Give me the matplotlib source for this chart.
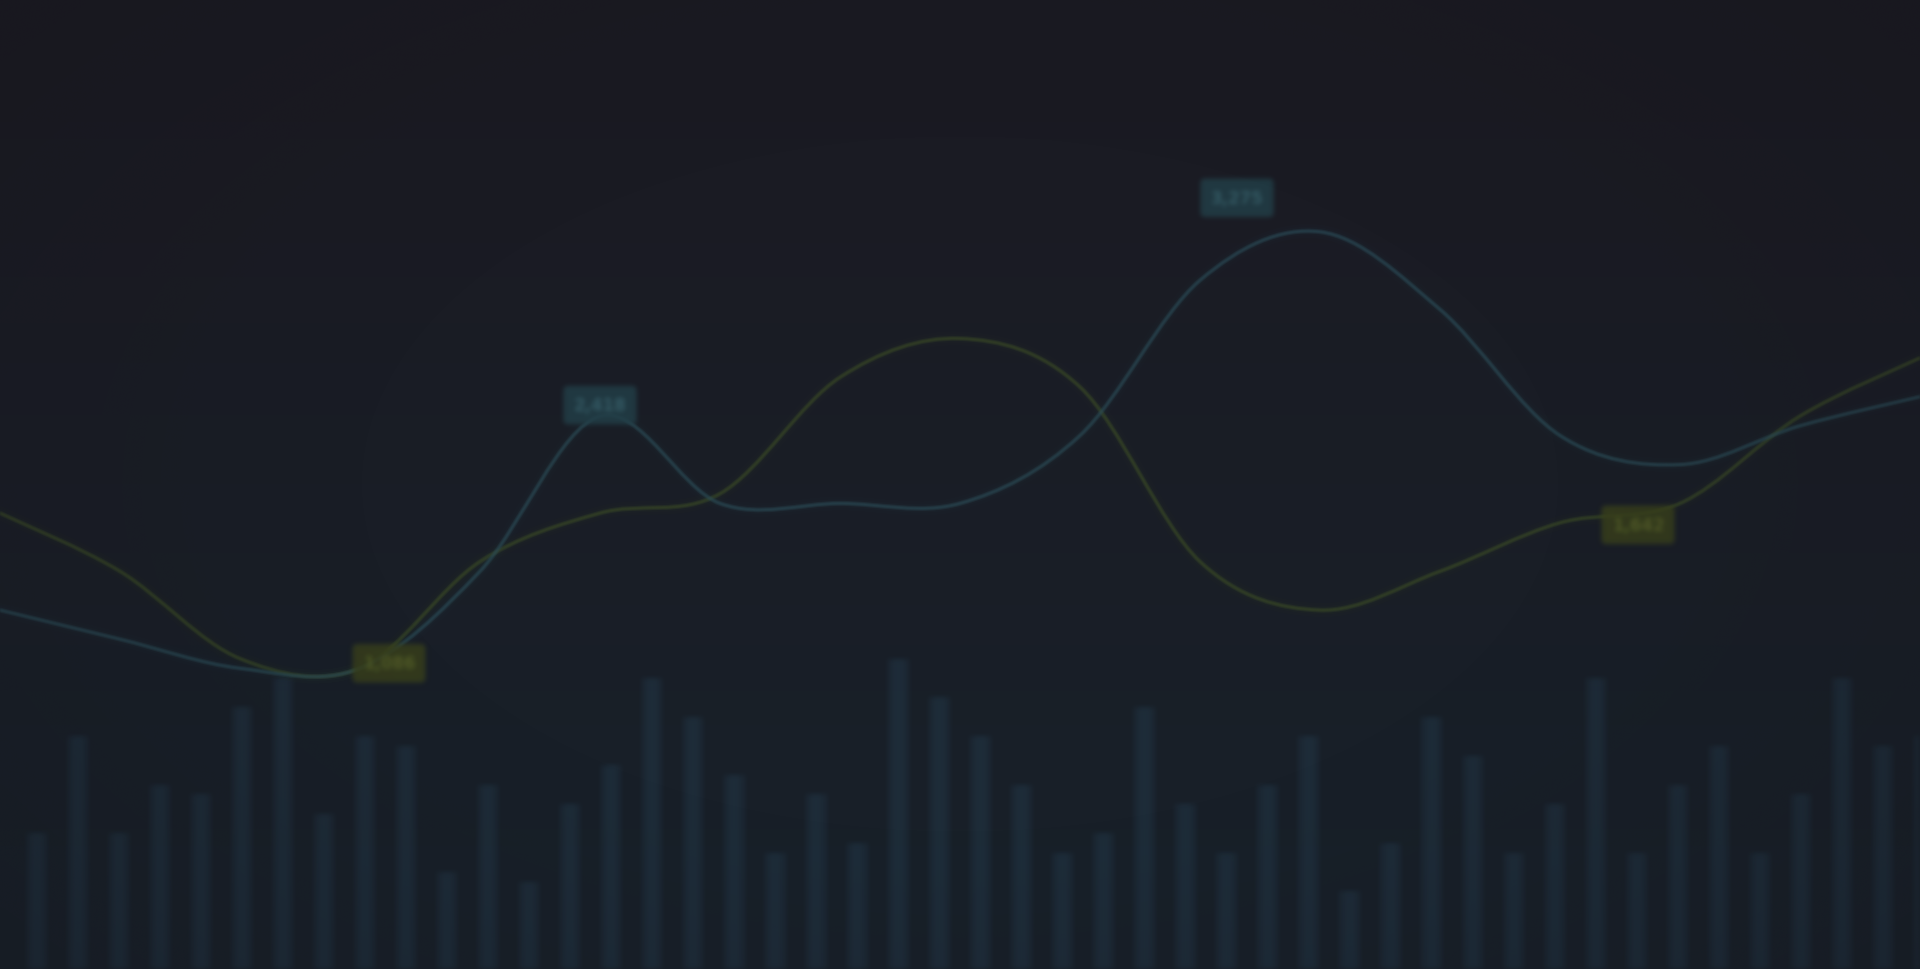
import numpy as np
import matplotlib
matplotlib.use("Agg")
import matplotlib.pyplot as plt
from matplotlib.path import Path
from matplotlib.patches import PathPatch

# data
bar_values = [14, 24, 14, 19, 18, 27, 30, 16, 24, 23, 10, 19, 9, 17, 21, 30,
              26, 20, 12, 18, 13, 32, 28, 24, 19, 12, 14, 27, 17, 12, 19, 24,
              8, 13, 26, 22, 12, 17, 30, 12, 19, 23, 12, 18, 30, 23, 24]
points = list(range(17))
series_a = [47, 41, 32, 31, 42, 47, 49, 61, 65, 60, 42, 37, 41, 46, 48, 57, 63]
series_b = [37, 34, 31, 31, 41, 57, 48, 48, 48, 55, 71, 76, 68, 55, 52, 56, 59]
# (series, point index, text, x offset px, y offset px)
labels = [
    ("a", 3, "1,086", 29, 5),
    ("b", 5, "2,418", 0, 11),
    ("b", 11, "3,275", -83, 34),
    ("a", 13, "1,642", 78, -2),
]


def blur(sigma):
    # gaussian blur as an agg filter, done on premultiplied colours
    pad = int(np.ceil(sigma * 3))
    k = np.exp(-0.5 * (np.arange(-pad, pad + 1) / sigma) ** 2)
    k /= k.sum()

    def f(im, dpi):
        im = np.pad(im, ((pad, pad), (pad, pad), (0, 0)))
        pm = im.copy()
        pm[..., :3] *= pm[..., 3:4]
        out = np.zeros_like(pm)
        for j, w in enumerate(k):
            out += w * np.roll(pm, j - pad, axis=0)
        out2 = np.zeros_like(out)
        for j, w in enumerate(k):
            out2 += w * np.roll(out, j - pad, axis=1)
        a = out2[..., 3:4]
        out2[..., :3] = np.where(a > 1e-6, out2[..., :3] / np.maximum(a, 1e-6), 0)
        return np.clip(out2, 0, 1), -pad, -pad
    return f


W, H = 19.2, 9.7
fig = plt.figure(figsize=(W, H), dpi=100)
fig.patch.set_facecolor("#1b1b23")

# background gradient
bg = fig.add_axes([0, 0, 1, 1], zorder=0)
ys = np.linspace(0, 1, 200)[:, None]
top = np.array([27, 26, 34]) / 255
bot = np.array([24, 33, 42]) / 255
grad = top * (1 - ys[..., None]) + bot * ys[..., None]
grad = np.repeat(grad, 4, axis=1)
bg.imshow(grad, aspect="auto", extent=[0, 1, 0, 1], interpolation="bicubic")
bg.set_axis_off()

# bars
axb = fig.add_axes([0, 0, 1, 1], zorder=1)
axb.patch.set_alpha(0)
bx = np.arange(len(bar_values))
b1 = axb.bar(bx, bar_values, width=0.5, color="#24394a", alpha=0.38, linewidth=0)
b2 = axb.bar(bx, bar_values, width=0.25, color="#2a4556", alpha=0.15, linewidth=0)
for p in list(b1) + list(b2):
    p.set_agg_filter(blur(2.5))
axb.set_xlim(-0.896, 45.9)
axb.set_ylim(0, 100)
axb.set_axis_off()

# lines
ax = fig.add_axes([0, 0, 1, 1], zorder=2)
ax.patch.set_alpha(0)
ax.set_xlim(0, 16)
ax.set_ylim(0, 100)
ax.set_axis_off()


def smooth_path(x, y):
    pts = np.column_stack([x, y]).astype(float)
    verts = [pts[0]]
    codes = [Path.MOVETO]
    n = len(pts)
    for i in range(n - 1):
        p0 = pts[max(i - 1, 0)]
        p1 = pts[i]
        p2 = pts[i + 1]
        p3 = pts[min(i + 2, n - 1)]
        c1 = p1 + (p2 - p0) / 6
        c2 = p2 - (p3 - p1) / 6
        verts += [c1, c2, p2]
        codes += [Path.CURVE4] * 3
    return Path(verts, codes)


for vals, col in [(series_a, "#3b4a25"), (series_b, "#2b4c57")]:
    path = smooth_path(points, vals)
    for lw, a in [(10, 0.04), (6, 0.06), (3.5, 0.15)]:
        ax.add_patch(PathPatch(path, fill=False, edgecolor=col, lw=lw,
                               alpha=a, capstyle="round"))
    pp = ax.add_patch(PathPatch(path, fill=False, edgecolor=col, lw=2.0,
                                alpha=0.65))
    pp.set_agg_filter(blur(0.9))

for s, idx, txt, dx, dy in labels:
    vals = series_a if s == "a" else series_b
    if s == "a":
        fc, tc, ec = "#383f1c", "#525c28", "#414a1e"
    else:
        fc, tc, ec = "#223e47", "#365c66", "#294a53"
    t = ax.annotate(txt, (points[idx], vals[idx]), xytext=(dx, dy),
                    textcoords="offset pixels", ha="center", va="center",
                    fontsize=12, color=tc, fontweight="bold",
                    bbox=dict(boxstyle="round,pad=0.55,rounding_size=0.2",
                              fc=fc, ec=ec, lw=1, alpha=0.85))
    t.set_agg_filter(blur(1.8))

# vignette
vg = fig.add_axes([0, 0, 1, 1], zorder=3)
vg.patch.set_alpha(0)
xx, yy = np.meshgrid(np.linspace(-1, 1, 300), np.linspace(-1, 1, 150))
r = np.sqrt(xx ** 2 * 0.8 + yy ** 2 * 0.6)
alpha = np.clip((r - 0.55) / 0.8, 0, 1) * 0.35
overlay = np.zeros((150, 300, 4))
overlay[..., 0] = 20 / 255
overlay[..., 1] = 19 / 255
overlay[..., 2] = 25 / 255
overlay[..., 3] = alpha
vg.imshow(overlay, aspect="auto", extent=[0, 1, 0, 1], interpolation="bicubic")
vg.set_axis_off()

fig.savefig("out.png", dpi=100, facecolor=fig.get_facecolor())
